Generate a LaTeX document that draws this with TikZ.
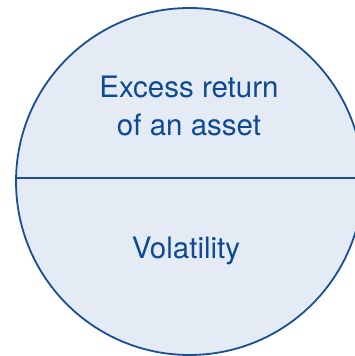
\documentclass[tikz,border=0pt]{standalone}
\usepackage{fontspec}
\setmainfont{TeX Gyre Heros}
\definecolor{edgeblue}{HTML}{1A4F93}
\definecolor{fillblue}{HTML}{E4EBF5}
\definecolor{textblue}{HTML}{0E4A92}
\begin{document}
\begin{tikzpicture}[x=1pt,y=1pt,
  lbl/.style={text=textblue,font=\fontsize{29.5}{36}\selectfont,align=center,anchor=base,inner sep=0pt}]
\useasboundingbox (0,0) rectangle (355,356);
\clip (0,0) rectangle (355,356);
\node[circle,draw=edgeblue,fill=fillblue,line width=1.8pt,minimum size=347pt,inner sep=0pt] (c) at (189.5,174.5) {};
\coordinate (l) at (15,177.7);
\coordinate (r) at (365,177.7);
\draw[edgeblue,line width=1.8pt] (l) -- (r);
\node[lbl] (top1) at (189,258) {Excess return};
\node[lbl] (top2) at (189,220.5) {of an asset};
\node[lbl] (bot) at (186,97.7) {Volatility};
\end{tikzpicture}
\end{document}
